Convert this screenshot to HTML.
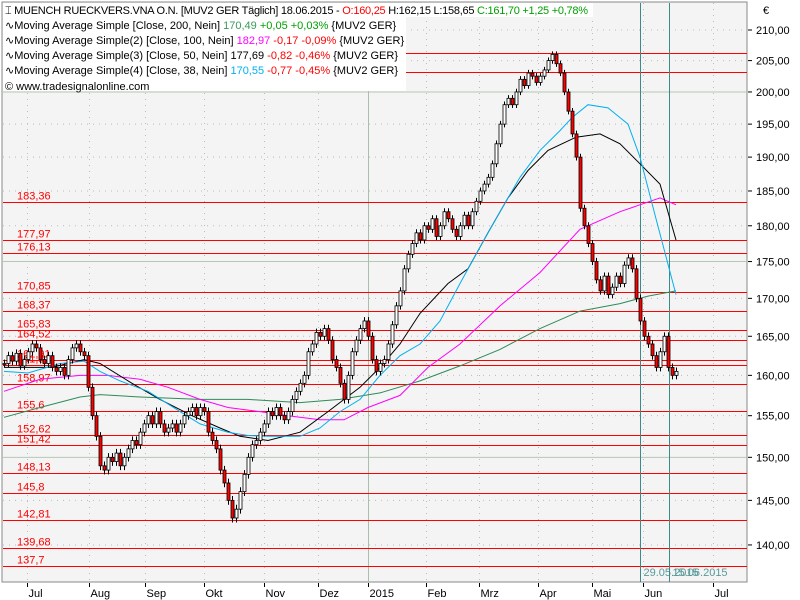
<!DOCTYPE html>
<html><head><meta charset="utf-8"><style>
body{margin:0;background:#fff;}
svg{display:block;font-family:"Liberation Sans",sans-serif;}
</style></head><body>
<svg id="chart" width="800" height="600" xmlns="http://www.w3.org/2000/svg">
<rect x="0" y="0" width="800" height="600" fill="#ffffff"/>
<rect x="2" y="2" width="745" height="580" fill="#f4f4f4" stroke="#888" stroke-width="1"/>
<g id="grid"></g>
<g id="levels"></g>
<g id="vlines"></g>
<g id="mas"></g>
<g id="candles"></g>
<g id="yaxis"></g>
<g id="xaxis"></g>
<text x="763" y="14" font-size="11" fill="#000">€</text>
<g>
<rect x="3" y="3" width="403" height="88" fill="#ffffff"/>
<rect x="3" y="3" width="590" height="14" fill="#ffffff"/>
<text x="5" y="14" font-size="11" fill="#000" textLength="583" lengthAdjust="spacing">⌶ MUENCH RUECKVERS.VNA O.N. [MUV2 GER  Täglich] 18.06.2015 - <tspan fill="#ff0000">O:160,25</tspan> H:162,15 L:158,65 <tspan fill="#00a000">C:161,70 +1,25 +0,78%</tspan></text>
<text x="5" y="29" font-size="11" fill="#000">∿Moving Average Simple [Close, 200, Nein] <tspan fill="#3a9a5a">170,49</tspan> <tspan fill="#00a000">+0,05 +0,03%</tspan> {MUV2 GER}</text>
<text x="5" y="44" font-size="11" fill="#000">∿Moving Average Simple(2) [Close, 100, Nein] <tspan fill="#ff00ff">182,97</tspan> <tspan fill="#ff0000">-0,17 -0,09%</tspan> {MUV2 GER}</text>
<text x="5" y="59" font-size="11" fill="#000">∿Moving Average Simple(3) [Close, 50, Nein] 177,69 <tspan fill="#ff0000">-0,82 -0,46%</tspan> {MUV2 GER}</text>
<text x="5" y="74" font-size="11" fill="#000">∿Moving Average Simple(4) [Close, 38, Nein] <tspan fill="#00b0f0">170,55</tspan> <tspan fill="#ff0000">-0,77 -0,45%</tspan> {MUV2 GER}</text>
<text x="5" y="90" font-size="11" fill="#000">© www.tradesignalonline.com</text>
</g>
</svg>
<script>
const closes=[161.5,162.5,161.8,162.8,161.2,162,163,164,163.5,162,161.5,162.5,161,160.5,161,160,162,163.5,164,163,162.5,158.5,155,152.5,149,148.5,150,149.5,150.5,149,150,151,152,151.5,153,154,155,154,155.5,154,153,153.5,154,153,154,155,155.5,156,155,156,155.5,153,152,151,148.5,147,145,143,144,146,148,150,151.5,152,153,154,155.5,155,156,155,154.5,155.5,157,158,159,160,163,164,165.5,165,166,164.5,162,161,159,157,160,163,164.5,166,167,165,162,160.5,161.5,162,164,166.5,169,171,174,176,177.5,179,178,180,179.5,181,178.5,180,182,181,179.5,178.5,180,181.5,180,182,183.5,185,186,187,189,192,195,198,199,198,200,202,201,203,202.5,201.5,202.5,203.5,205,206,204.5,203,200,197,193.5,190,182.5,180,177.5,175,172.5,171,173,170.5,171.5,173,172,174.5,175.5,174,170,167,165,164,162.5,161,163,165,161,160,160.5];
const ma38Idx=[0,6,14,20,24,29,36,44,49,56,61,66,74,79,84,89,94,99,104,109,114,119,124,129,134,139,142,146,151,154,156,159,163,168];
const ma38Val=[160.5,160.3,161.5,161.8,160.5,159.3,158,155.5,154,153,152.6,152.5,152.5,153.5,155.5,157,160,162.5,164,167,172,177,182,187,191,194,196,198,197.5,196,195,190,181,170.5];
const ma50Idx=[0,12,20,24,32,39,47,54,59,66,74,81,89,94,99,104,111,116,121,126,131,136,143,149,154,159,164,168];
const ma50Val=[161,161,162,161.5,159,157,155,153.5,152.5,152,153,155.5,158.5,161,164,168,172,174,179,184,188,191,193,193.5,192,189,186,178];
const ma100Idx=[0,9,19,26,34,41,49,56,64,71,79,85,91,99,106,114,124,134,144,154,164,168];
const ma100Val=[158,159.5,160,160,159.5,158.5,157,156,155.5,155,154.5,154.5,156,157.5,161,164,169,173.5,179.5,182,184,183];
const ma200Idx=[0,9,19,24,34,49,61,74,84,94,104,114,124,134,144,154,161,168];
const ma200Val=[154.8,156,157.3,157.6,157.3,157,157,156.6,157,157.8,159.3,161.2,163.3,166,168.3,169.3,170.3,171];
const levelVals=[206.22,203.11,183.36,177.97,176.13,170.85,168.37,165.83,164.52,161.91,161.31,158.97,155.6,152.62,151.42,148.13,145.8,142.81,139.68,137.7];
const levelLabels=["206,22","203,11","183,36","177,97","176,13","170,85","168,37","165,83","164,52","161,91","161,31","158,97","155,6","152,62","151,42","148,13","145,8","142,81","139,68","137,7"];
const yTicks=[210,205,200,195,190,185,180,175,170,165,160,155,150,145,140];
const yTickLabels=["210,00","205,00","200,00","195,00","190,00","185,00","180,00","175,00","170,00","165,00","160,00","155,00","150,00","145,00","140,00"];
const monthLabels=["Jul","Aug","Sep","Okt","Nov","Dez","2015","Feb","Mrz","Apr","Mai","Jun","Jul"];
const monthBar=[5.75,21.25,35.25,50,65,78.5,91,105.5,118.75,133.5,147,159.75,177.25];
const markerBars=[159,166.25];
const markerLabels=["29.05.2015","15.06.2015"];

const NS="http://www.w3.org/2000/svg";
function Y(v){return 30+Math.log(210/v)*1270;}
function X(i){return 4+i*4;}
function mk(tag,attrs,parent){const e=document.createElementNS(NS,tag);for(const k in attrs)e.setAttribute(k,attrs[k]);parent.appendChild(e);return e;}
const grid=document.getElementById('grid');
yTicks.forEach(v=>{
  const major=(v%25===0);
  const l=mk('line',{x1:3,x2:747,y1:Y(v),y2:Y(v),stroke:major?'#b4c8b4':'#bbb','stroke-width':1,'stroke-dasharray':major?'':'1,5'},grid);
  
  
});
monthLabels.forEach((m,k)=>{
  const x=Math.round(X(monthBar[k]))+0.5;
  const yr=(m==="2015");
  const l=mk('line',{x1:x,x2:x,y1:3,y2:582,stroke:yr?'#a8c0a8':'#bbb','stroke-width':1,'stroke-dasharray':yr?'':'1,5'},grid);
  
  
});
const lev=document.getElementById('levels');
levelVals.forEach((v,k)=>{
  const y=Math.round(Y(v))+0.5;
  const l=mk('line',{x1:3,x2:747,y1:y,y2:y,stroke:'#ff0000','stroke-width':1},lev);
  
  
  const t=mk('text',{x:17,y:y-3,'font-size':11,fill:'#ff0000'},lev);
  t.textContent=levelLabels[k];
  
  
});
const vl=document.getElementById('vlines');
markerBars.forEach((b,k)=>{
  const x=Math.round(X(b))+0.5;
  const l=mk('line',{x1:x,x2:x,y1:3,y2:582,stroke:'#3a8a8a','stroke-width':1},vl);
  
  
  const t=mk('text',{x:x+3,y:576,'font-size':11,fill:'#5a9a9a'},vl);
  t.textContent=markerLabels[k];
  
  
});
const mas=document.getElementById('mas');
[[ma200Idx,ma200Val,'#2e8b57','ma200-line'],[ma100Idx,ma100Val,'#ff00ff','ma100-line'],[ma50Idx,ma50Val,'#000000','ma50-line'],[ma38Idx,ma38Val,'#00b0f0','ma38-line']].forEach(s=>{
  const d=s[0].map((i,k)=>(k?'L':'M')+X(i).toFixed(1)+','+Y(s[1][k]).toFixed(1)).join('');
  const p=mk('path',{d:d,fill:'none',stroke:s[2],'stroke-width':1},mas);
  
  
});
const cg=document.getElementById('candles');
closes.forEach((c,i)=>{
  const o=i?closes[i-1]:c;
  const hi=Math.max(o,c)+0.5, lo=Math.min(o,c)-0.5;
  const x=X(i)+0.5;
  const w=mk('line',{x1:x,x2:x,y1:Y(hi),y2:Y(lo),stroke:'#000','stroke-width':1},cg);
  
  
  const top=Y(Math.max(o,c)), bot=Y(Math.min(o,c));
  const r=mk('rect',{x:x-1.5,y:top,width:3,height:Math.max(1,bot-top),fill:c>=o?'#ffffff':'#ff0000',stroke:'#000','stroke-width':0.8},cg);
  
  
});
const ya=document.getElementById('yaxis');
yTicks.forEach((v,k)=>{
  const y=Y(v);
  const t1=mk('line',{x1:748,x2:752,y1:y,y2:y,stroke:'#000'},ya);
  
  
  const t=mk('text',{x:756,y:y+4,'font-size':11,fill:'#000'},ya);
  t.textContent=yTickLabels[k];
  
  
});
const xa=document.getElementById('xaxis');
monthLabels.forEach((m,k)=>{
  const x=Math.round(X(monthBar[k]))+0.5;
  const t1=mk('line',{x1:x,x2:x,y1:583,y2:587,stroke:'#000'},xa);
  
  
  const t=mk('text',{x:x+1,y:597,'font-size':11,fill:'#000'},xa);
  t.textContent=m;
  
  
});
</script>
</body></html>
